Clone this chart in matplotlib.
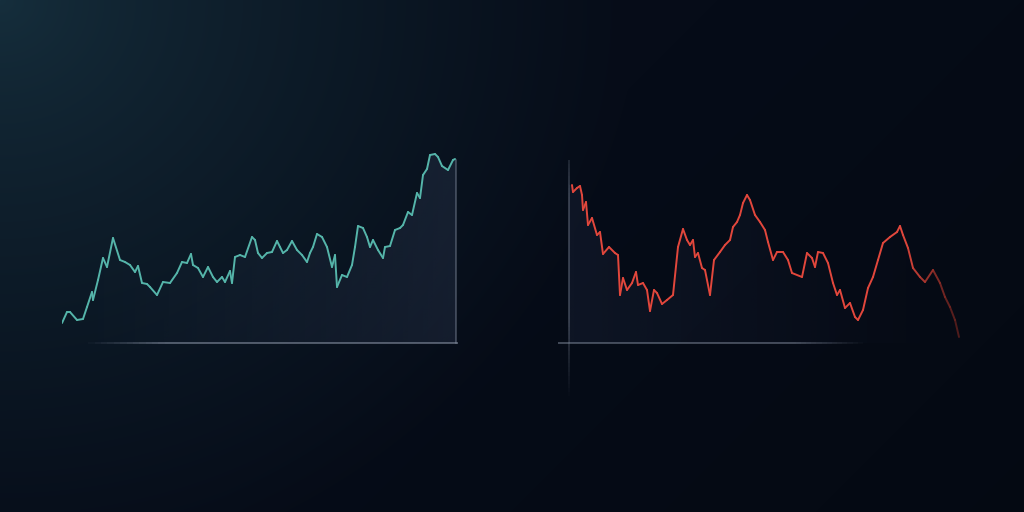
import numpy as np
import matplotlib
matplotlib.use("Agg")
import matplotlib.pyplot as plt
from matplotlib.collections import LineCollection
from matplotlib.colors import to_rgba

# left chart (rising series)
up_t = [0, 5, 8, 15, 21, 25, 30, 31, 36, 41, 45, 51, 58, 63, 68, 73, 76, 80, 85, 88,
        95, 101, 108, 115, 120, 125, 129, 131, 136, 141, 146, 151, 155, 160, 163, 168,
        170, 173, 178, 183, 190, 193, 196, 200, 205, 210, 215, 218, 221, 225, 230, 235,
        240, 245, 248, 251, 255, 260, 265, 270, 273, 275, 280, 285, 290, 293, 296, 301,
        305, 308, 311, 316, 321, 323, 328, 333, 338, 341, 346, 350, 355, 358, 361, 365,
        368, 373, 376, 380, 386, 391, 393]
up_v = [20, 31, 31, 23, 24, 36, 51, 43, 63, 85, 76, 105, 83, 81, 78, 71, 77, 60, 59, 56,
        48, 61, 60, 70, 81, 80, 89, 78, 75, 66, 76, 66, 61, 66, 61, 72,
        60, 86, 88, 86, 106, 103, 90, 85, 90, 91, 102, 96, 90, 93, 102, 93,
        88, 81, 90, 96, 109, 106, 96, 76, 88, 56, 68, 66, 78, 96, 117, 115,
        106, 96, 103, 93, 85, 96, 97, 113, 115, 118, 131, 128, 150, 145, 168, 174,
        188, 189, 186, 177, 173, 183, 184]

# right chart (falling series)
down_t = [3, 4, 8, 11, 13, 14, 17, 19, 23, 28, 31, 34, 40, 46, 49, 51, 54, 58, 63, 67,
          69, 74, 78, 81, 85, 88, 93, 98, 104, 109, 114, 118, 121, 124, 126, 129, 133,
          136, 141, 145, 151, 156, 161, 164, 168, 171, 174, 178, 181, 186, 191, 196, 199,
          204, 208, 214, 219, 223, 233, 238, 243, 246, 249, 254, 259, 264, 268, 271, 276,
          281, 286, 289, 294, 299, 304, 309, 314, 321, 328, 331, 334, 339, 344, 351, 356,
          364, 371, 376, 381, 386, 390]
down_v = [158, 151, 155, 157, 148, 133, 141, 118, 125, 108, 111, 89, 96, 90, 88, 48, 65, 53, 60, 71,
          58, 60, 53, 32, 53, 50, 39, 43, 48, 96, 114, 103, 98, 103, 86, 90, 75,
          73, 48, 83, 91, 98, 103, 116, 121, 128, 140, 148, 143, 128, 121, 113, 101,
          83, 91, 91, 83, 70, 66, 90, 85, 76, 91, 90, 80, 60, 48, 53, 35,
          40, 26, 23, 33, 55, 66, 83, 100, 106, 111, 117, 108, 95, 75, 66, 61,
          73, 60, 46, 36, 23, 6]

TEAL = "#55b5aa"
RED = "#e2473c"
AXIS = "#8a94a6"

W, H = 1024, 512
fig = plt.figure(figsize=(W / 100, H / 100), dpi=100)

# background: glow from the top-left corner into near-black navy
bg = fig.add_axes([0, 0, 1, 1])
yy, xx = np.mgrid[0:H, 0:W]
d = np.sqrt((xx / W) ** 2 + 0.3 * (yy / H) ** 2)
k = np.clip(d / 0.62, 0, 1) ** 0.75
c0 = np.array([22, 47, 61]) / 255
c1 = np.array([6, 12, 24]) / 255
img = c0[None, None, :] * (1 - k[..., None]) + c1[None, None, :] * k[..., None]
dark = np.clip((xx / W - 0.45) * 0.8 + (yy / H - 0.5) * 0.4, 0, 1)[..., None]
img = img * (1 - 0.35 * dark)
bg.imshow(img, extent=[0, W, H, 0], aspect="auto")
bg.set_axis_off()


def soft_fill(ax, t, v, x_end, rgb, amax, direction):
    # faint area under the line, fading out to one side
    n = 200
    g = np.linspace(0, 1, n)
    a = amax * (g if direction == "right" else 1 - g) ** 1.1
    arr = np.zeros((2, n, 4))
    arr[..., :3] = to_rgba(rgb)[:3]
    arr[..., 3] = a[None, :]
    poly = ax.fill_between(np.r_[t, x_end], 0, np.r_[v, v[-1]], color="none", lw=0)
    im = ax.imshow(arr, extent=[t[0], x_end, 0, 193], aspect="auto", zorder=1,
                   interpolation="bilinear")
    im.set_clip_path(poly.get_paths()[0], transform=ax.transData)


def chart(left_px, t, v, color, fade_end=False):
    ax = fig.add_axes([left_px / W, (H - 343) / H, 394 / W, 193 / H])
    ax.set_axis_off()
    ax.patch.set_alpha(0)

    t = np.array(t, float)
    v = np.array(v, float)
    pts = np.column_stack([t, v]).reshape(-1, 1, 2)
    segs = np.concatenate([pts[:-1], pts[1:]], axis=1)
    rgba = np.tile(to_rgba(color), (len(segs), 1))
    if fade_end:
        mid = (t[:-1] + t[1:]) / 2
        f = np.clip((mid - 335) / 55, 0, 1)
        rgba[:, :3] *= (1 - 0.5 * f)[:, None]
        rgba[:, 3] = 1 - 0.35 * f
    ax.add_collection(LineCollection(segs, colors=rgba, linewidths=1.4,
                                     capstyle="round", joinstyle="round", zorder=5))
    return ax, t, v


# left chart
ax1, t1, v1 = chart(62, up_t, up_v, TEAL)
soft_fill(ax1, t1, v1, 394, "#3a4662", 0.28, "right")
ax1.plot([394, 394], [0, 183], color=AXIS, lw=1.1, alpha=0.5, clip_on=False, zorder=3)
base = np.linspace(20, 396, 60)
bsegs = np.stack([np.column_stack([base[:-1], np.zeros(59)]),
                  np.column_stack([base[1:], np.zeros(59)])], axis=1)
balpha = np.clip((base[:-1] - 20) / 80, 0, 1) * 0.6
ax1.add_collection(LineCollection(bsegs, colors=[to_rgba(AXIS, a) for a in balpha],
                                  linewidths=1.3, clip_on=False, zorder=3))
ax1.set_xlim(0, 394)
ax1.set_ylim(0, 193)

# right chart
ax2, t2, v2 = chart(569, down_t, down_v, RED, fade_end=True)
soft_fill(ax2, np.r_[0, t2], np.r_[v2[0], v2], 390, "#2a3450", 0.25, "left")
vv = np.linspace(-57, 183, 60)
vsegs = np.stack([np.column_stack([np.zeros(59), vv[:-1]]),
                  np.column_stack([np.zeros(59), vv[1:]])], axis=1)
valpha = np.clip((vv[:-1] + 57) / 80, 0, 1) * 0.45
valpha *= np.clip((183 - vv[:-1]) / 40, 0, 1) * 0.5 + 0.5
ax2.add_collection(LineCollection(vsegs, colors=[to_rgba(AXIS, a) for a in valpha],
                                  linewidths=1.1, clip_on=False, zorder=3))
hh = np.linspace(-11, 294, 60)
hsegs = np.stack([np.column_stack([hh[:-1], np.zeros(59)]),
                  np.column_stack([hh[1:], np.zeros(59)])], axis=1)
halpha = np.clip((294 - hh[:-1]) / 70, 0, 1) * 0.5
ax2.add_collection(LineCollection(hsegs, colors=[to_rgba(AXIS, a) for a in halpha],
                                  linewidths=1.3, clip_on=False, zorder=3))
ax2.set_xlim(0, 394)
ax2.set_ylim(0, 193)

fig.savefig("out.png", dpi=100)
